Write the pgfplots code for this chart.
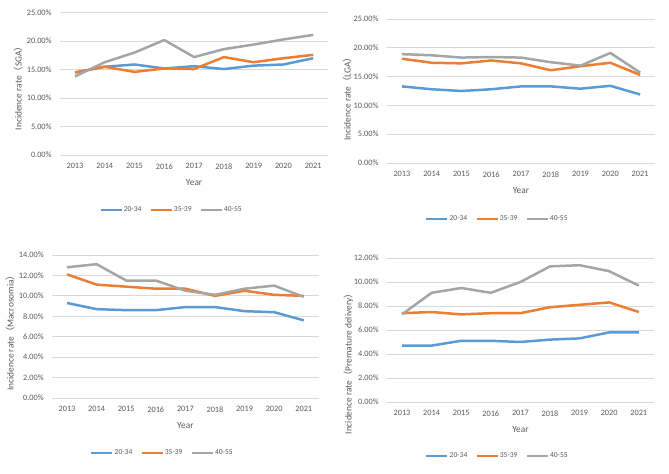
\documentclass[border=0pt]{standalone}
\usepackage{pgfplots}
\pgfplotsset{compat=1.18}
\usepackage{fontspec}
\setmainfont{Carlito}
\newfontfamily\cjk{Noto Sans CJK SC}
\definecolor{cblue}{HTML}{5B9BD5}
\definecolor{corange}{HTML}{ED7D31}
\definecolor{cgray}{HTML}{A5A5A5}
\definecolor{ctext}{HTML}{595959}
\definecolor{cgrid}{HTML}{D9D9D9}
\pgfplotsset{
  panel/.style={
    scale only axis,
    anchor=south west,
    xmin=2012.5, xmax=2021.5,
    ymin=0,
    xtick={2013,...,2021},
    xticklabel={\pgfmathprintnumber[1000 sep={}]{\tick}},
    /pgf/number format/assume math mode=true,
    axis line style={draw=none},
    major tick length=0pt,
    ymajorgrids,
    grid style={cgrid, line width=0.75bp},
    tick label style={font=\fontsize{8.3}{10}\selectfont, text=ctext},
    xticklabel style={yshift=-5bp},
    yticklabel style={xshift=-5bp},
    yticklabel={\pgfmathprintnumber[fixed,fixed zerofill,precision=2]{\tick}\%},
    label style={font=\fontsize{9.4}{11}\selectfont, text=ctext},
    xlabel={Year},
    xlabel style={at={(axis description cs:0.5,0)}, anchor=center, yshift=-28bp},
    legend columns=3,
    legend style={draw=none, fill=none, font=\fontsize{7.6}{9}\selectfont, text=ctext, anchor=center,
      /tikz/every even column/.append style={column sep=7bp},
      inner sep=0pt, nodes={inner sep=1bp}},
    legend image code/.code={\draw[##1, line width=2.5bp] (0bp,0bp) -- (21bp,0bp);},
    every axis plot/.append style={line width=2.5bp, line join=round},
  },
}
\begin{document}
\begin{tikzpicture}
\path[use as bounding box] (0,0) rectangle (669bp,474bp);
% Panel 1: SGA
\begin{axis}[panel, at={(60.1bp,319bp)}, width=268bp, height=142.3bp,
  ymax=25, ytick={0,5,...,25},
  ylabel={Incidence rate{\cjk（}SGA{\cjk）}},
  ylabel style={at={(axis description cs:-0.1567,0.485)}, anchor=center},
  legend style={at={(axis description cs:0.414,-0.387)}}]
\addplot[cblue] coordinates {(2013,14.5)(2014,15.5)(2015,15.9)(2016,15.2)(2017,15.6)(2018,15.1)(2019,15.7)(2020,15.9)(2021,17.0)};
\addplot[corange] coordinates {(2013,14.5)(2014,15.5)(2015,14.6)(2016,15.2)(2017,15.1)(2018,17.2)(2019,16.3)(2020,17.0)(2021,17.6)};
\addplot[cgray] coordinates {(2013,13.8)(2014,16.3)(2015,18.0)(2016,20.2)(2017,17.2)(2018,18.6)(2019,19.4)(2020,20.3)(2021,21.1)};
\legend{20-34,35-39,40-55}
\end{axis}
% Panel 2: LGA
\begin{axis}[panel, at={(387bp,311bp)}, width=268bp, height=144bp,
  ymax=25, ytick={0,5,...,25},
  ylabel={Incidence rate{\cjk（}LGA{\cjk）}},
  ylabel style={at={(axis description cs:-0.149,0.46)}, anchor=center},
  legend style={at={(axis description cs:0.41,-0.389)}}]
\addplot[cblue] coordinates {(2013,13.3)(2014,12.8)(2015,12.5)(2016,12.8)(2017,13.3)(2018,13.3)(2019,12.9)(2020,13.4)(2021,11.9)};
\addplot[corange] coordinates {(2013,18.1)(2014,17.4)(2015,17.3)(2016,17.8)(2017,17.3)(2018,16.1)(2019,16.8)(2020,17.4)(2021,15.3)};
\addplot[cgray] coordinates {(2013,18.9)(2014,18.7)(2015,18.3)(2016,18.4)(2017,18.3)(2018,17.5)(2019,16.9)(2020,19.1)(2021,15.7)};
\legend{20-34,35-39,40-55}
\end{axis}
% Panel 3: Macrosomia
\begin{axis}[panel, at={(52.2bp,76bp)}, width=266.4bp, height=143bp,
  ymax=14, ytick={0,2,...,14},
  ylabel={Incidence rate{\cjk（}Macrosomia{\cjk）}},
  ylabel style={at={(axis description cs:-0.158,0.47)}, anchor=center},
  legend style={at={(axis description cs:0.412,-0.385)}}]
\addplot[cblue] coordinates {(2013,9.3)(2014,8.7)(2015,8.6)(2016,8.6)(2017,8.9)(2018,8.9)(2019,8.5)(2020,8.4)(2021,7.6)};
\addplot[corange] coordinates {(2013,12.1)(2014,11.1)(2015,10.9)(2016,10.7)(2017,10.7)(2018,10.0)(2019,10.5)(2020,10.1)(2021,10.0)};
\addplot[cgray] coordinates {(2013,12.8)(2014,13.1)(2015,11.5)(2016,11.5)(2017,10.5)(2018,10.1)(2019,10.7)(2020,11.0)(2021,9.9)};
\legend{20-34,35-39,40-55}
\end{axis}
% Panel 4: Premature delivery
\begin{axis}[panel, at={(387.2bp,72bp)}, width=266.4bp, height=144bp,
  ymax=12, ytick={0,2,...,12},
  ylabel={Incidence rate{\cjk（}Premature delivery{\cjk）}},
  ylabel style={at={(axis description cs:-0.146,0.28)}, anchor=center},
  legend style={at={(axis description cs:0.412,-0.375)}}]
\addplot[cblue] coordinates {(2013,4.7)(2014,4.7)(2015,5.1)(2016,5.1)(2017,5.0)(2018,5.2)(2019,5.3)(2020,5.8)(2021,5.8)};
\addplot[corange] coordinates {(2013,7.4)(2014,7.5)(2015,7.3)(2016,7.4)(2017,7.4)(2018,7.9)(2019,8.1)(2020,8.3)(2021,7.5)};
\addplot[cgray] coordinates {(2013,7.3)(2014,9.1)(2015,9.5)(2016,9.1)(2017,10.0)(2018,11.3)(2019,11.4)(2020,10.9)(2021,9.7)};
\legend{20-34,35-39,40-55}
\end{axis}
\end{tikzpicture}
\end{document}
